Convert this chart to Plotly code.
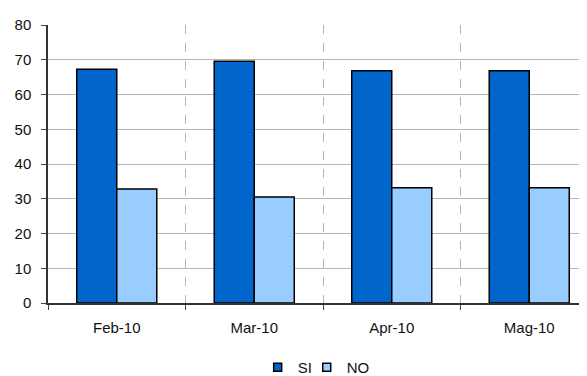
import plotly.graph_objects as go

categories = ["Feb-10", "Mar-10", "Apr-10", "Mag-10"]
si_values = [67.3, 69.6, 66.8, 66.8]
no_values = [32.8, 30.5, 33.2, 33.2]
y_ticks = [0, 10, 20, 30, 40, 50, 60, 70, 80]
series_names = ["SI", "NO"]
series_colors = ["#0066CC", "#99CCFF"]
legend_ids = ["legend", "legend2"]

fig = go.Figure()
for name, vals, col in zip(series_names, [si_values, no_values], series_colors):
    fig.add_trace(go.Bar(x=categories, y=vals, name=name, showlegend=False,
                         marker=dict(color=col, line=dict(color="#000000", width=1.5))))
for name, col, lg in zip(series_names, series_colors, legend_ids):
    fig.add_trace(go.Scatter(x=[None], y=[None], mode="markers", name=name, legend=lg,
                             marker=dict(symbol="square", size=8, color=col,
                                         line=dict(color="#000000", width=1.5))))

legend_style = dict(orientation="h", yanchor="middle", y=-0.232, xanchor="left",
                    font=dict(size=15), itemwidth=30, bgcolor="rgba(0,0,0,0)")

fig.update_layout(
    width=579, height=368,
    margin=dict(l=40, r=0, t=17, b=73, autoexpand=False),
    paper_bgcolor="white", plot_bgcolor="white",
    barmode="group", bargap=0.418, bargroupgap=0,
    font=dict(family="Liberation Sans, Arial, sans-serif", size=15, color="#111111"),
    showlegend=True,
    legend=dict(x=0.389, **legend_style),
    legend2=dict(x=0.480, **legend_style),
    xaxis=dict(range=[-0.5, 3.42], tickson="boundaries", ticks="outside", ticklen=5,
               tickcolor="#444444", showgrid=True, gridcolor="#B5B5B5", griddash="dash",
               gridwidth=1, showline=True, linecolor="#333333", linewidth=1.5,
               automargin=False, ticklabelstandoff=10),
    yaxis=dict(range=[0, 80], tickvals=y_ticks, ticks="outside", ticklen=5,
               tickcolor="#444444", showgrid=True, gridcolor="#B5B5B5", gridwidth=1,
               showline=True, linecolor="#333333", linewidth=1.5, zeroline=False,
               automargin=False, ticklabelstandoff=7),
)

fig.write_html("out.html")
